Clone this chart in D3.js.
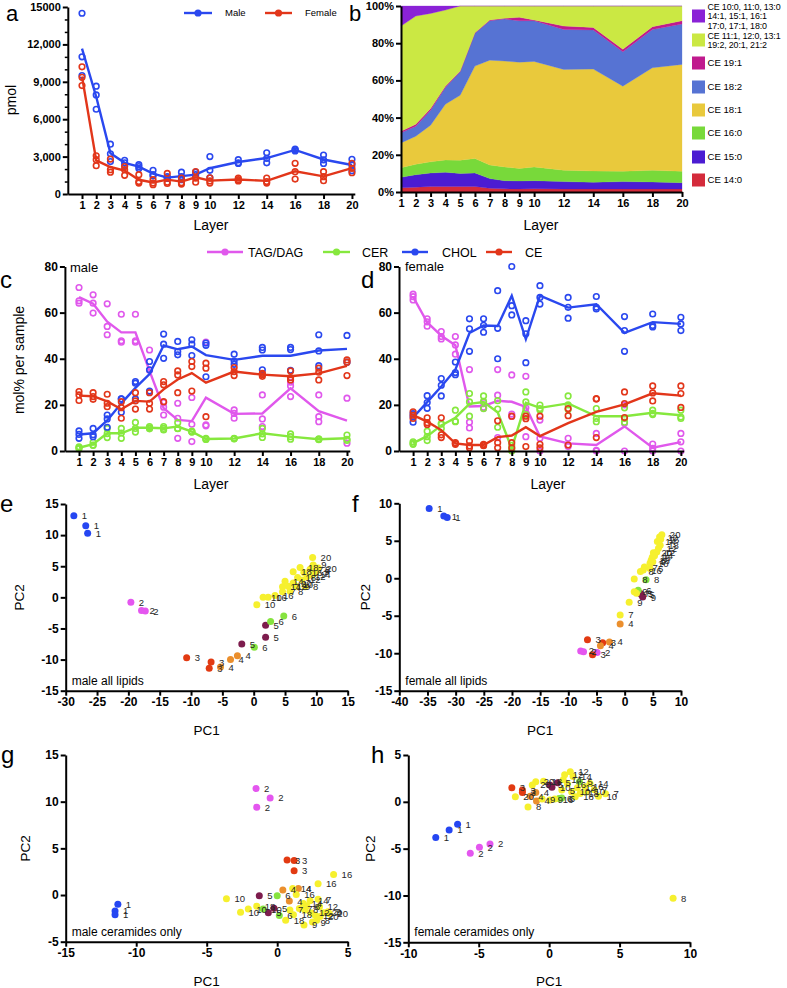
<!DOCTYPE html>
<html><head><meta charset="utf-8">
<script src="https://cdn.jsdelivr.net/npm/d3@7"></script>
<style>body{margin:0;background:#fff}svg{display:block}</style>
</head><body>
<svg id="fig" width="787" height="988"></svg>
<script>
// ---------------- DATA ----------------
const layers = [1,2,3,4,5,6,7,8,9,10,12,14,16,18,20];

// panel a: total CE (pmol), replicates per layer
const maleTotal = [[14500,11000,9500],[8650,7950,6800],[4000,3230,2600],[2700,2500,2300],[2350,2200,2050],[1900,1550,1450],[1400,1300,1250],[1750,1400,1150],[1750,1550,1350],[3000,1900,1300],[2750,2500,2450],[3300,2850,2500],[3600,3550,3450],[3130,2730,2450],[2780,2330,1870]];
const femaleTotal = [[10200,9360,8700],[3070,2750,2270],[2800,1950,1750],[2200,1950,1500],[1550,1000,880],[1150,880,750],[1650,950,850],[1280,900,800],[1800,1280,950],[1300,1050,880],[1280,1150,1050],[1280,1000,880],[2460,1790,1200],[1790,1390,1070],[2460,2060,1710]];
const aTicks = [0,3000,6000,9000,12000,15000];

// panel b: CE species composition (%), per layer
const ce14_0 = [2.3,2.6,3.0,3.0,3.0,3.0,2.0,1.7,1.6,1.8,1.6,1.6,1.6,1.6,1.6];
const ce15_0 = [5.6,6.7,7.2,7.6,7.0,7.2,5.2,4.4,4.3,4.3,4.0,3.6,4.0,3.8,3.4];
const ce16_0 = [5.2,5.6,6.0,6.6,7.1,7.8,7.3,7.4,6.7,7.4,6.1,6.1,5.5,6.3,6.1];
const ce18_1 = [13.3,15.1,19.7,30.0,34.9,49.7,56.4,56.9,57.2,56.7,54.2,54.8,45.8,55.1,57.5];
const ce18_2 = [5.4,5.4,8.1,9.0,12.6,17.6,21.2,22.6,22.3,21.9,21.5,21.0,18.5,20.6,21.7];
const ce19_1 = [0.9,1.0,0.9,0.7,0.4,0.3,0.4,0.4,1.8,0.4,1.8,1.4,1.3,1.5,1.8];
const ce11_1grp = [56.5,58.2,51.1,40.9,35.0,14.4,7.5,6.6,6.1,7.5,10.8,11.5,23.3,11.1,7.9];
const ce10_0grp = [10.8,5.4,4.0,2.2,0,0,0,0,0,0,0,0,0,0,0];
const ceKeys = ["CE 14:0","CE 15:0","CE 16:0","CE 18:1","CE 18:2","CE 19:1","CE 11:1 grp","CE 10:0 grp"];
const ceLegend = [["CE 14:0"],["CE 15:0"],["CE 16:0"],["CE 18:1"],["CE 18:2"],["CE 19:1"],["CE 11:1, 12:0, 13:1","19:2, 20:1, 21:2"],["CE 10:0, 11:0, 13:0","14:1, 15:1, 16:1","17:0, 17:1, 18:0"]];
const bTicks = [0,20,40,60,80,100];

// panels c/d: mol% per sample, replicates per layer
const maleTAG = [[70.9,65.1,64.1],[67.7,64.1,59.8],[63.8,54,50.4],[59.3,47.8,47.2],[59.3,47.8,47.2],[43.8,35,25.5],[21,19,15.6],[20.7,14.2,5.5],[23.2,11.6,4.1],[47.2,11.3,10.9],[17.8,16.3,14.2],[24.3,13.9,10.6],[29.8,28.2,23.6],[24.3,14.9,12.7],[22.9,3.4]];
const maleCER = [[1.8,1.4,1.0],[3.8,2.6,2.4],[9.8,7.5,5.8],[9.8,7.8,5.5],[12.4,9.8,8.2],[10.6,10,9.6],[10.6,9.8,9.1],[12.3,9.8,9.7],[8.6,8.4,8.2],[5.5,5.1,5.0],[5.5,5.4,5.3],[9.8,7.4,5.9],[7.4,6.2,5.1],[5.3,5.1,4.9],[6.9,5.1,4.6]];
const maleCHOL = [[8.7,7.2,5.5],[9.8,7.1,6.2],[15.6,13.9,10.3],[22.6,22.6,16.8],[30.1,29.4,22.6],[38.8,35.2,26],[50.7,46.3,40.2],[47.5,43.1,41.7],[48.2,46.3,41.4],[46.8,45.8,32.2],[42,39,37.6],[44.9,43.8,35.2],[44.9,44,35],[50.4,43.4,37],[50.1,38.5]];
const maleCE = [[25.8,24.3,21.9],[25.3,23.6,22.4],[24.6,20.7,19.2],[21.4,18.8,14.2],[25.3,21.7,18.2],[25.3,20.7,18.2],[30.1,28.7,21.4],[34.7,33,25.3],[38.8,36.6,26],[38.1,35.9,14.9],[36.2,34.4,32.7],[33.7,33.2,32.4],[34.7,31.8,30.8],[35.9,34.2,30.8],[39.5,38.5,32.7]];
const femaleTAG = [[68,66.9,65.5],[57.3,56,54.1],[51.8,49.6,48.6],[49.6,46,42],[35.3,12.5,10],[21,19,18.5],[35.3,24.2,5.8],[33,16,15],[32.4,18.7,6.2],[13.4,5.5,0],[5.5,2.5,1.9],[7.6,0.3,0],[20,12,0],[3,1.2,0],[7.6,4,0]];
const femaleCER = [[4,3.3,2.9],[8.6,6.2,4.5],[11.9,11.6,9.8],[17.7,12.9,12.7],[24.9,21.3,15.1],[23.9,21.5,18.4],[21.8,18.2,10.3],[2.5,1,0],[25.6,21.3,15.8],[19.9,18.4,17.8],[23.9,20,18],[18.4,14.1,12.7],[18.7,14.1,12.5],[17.7,16.3,15.8],[17.7,14.7,14.1]];
const femaleCHOL = [[16.2,14.8,12.5],[24,21,18.5],[31.4,28.5,23.9],[38.6,34,33.1],[57.3,53,43.2],[57.3,54.5,51.5],[69.5,53.2,40],[80,63,59],[56.5,50.8,38.3],[71.7,66.6,63.7],[66.6,62.3,57.6],[67,62.3,61.6],[58.3,52.2,43.2],[59.4,54.4,53.8],[58,55.1,52.2]];
const femaleCE = [[17,15.5,14.1],[14.4,12.3,11.5],[14.4,7,5.8],[3.6,3.3,2.9],[4.3,2.2,1.4],[2.9,2.6,2.3],[13.1,3.6,1.4],[15.1,3.6,1.4],[15.1,14,1.9],[15.1,2.9,1.4],[18.4,15.3,2.6],[22.7,22.5,5.8],[25.6,20.6,14.5],[28.2,25.2,21.7],[28.2,24.9,18.9]];
const molTicks = [0,20,40,60,80];

// panels e-h: PCA scores [PC1, PC2, label, colour group]
const pcaMaleAll = [[-28.7,13.1,"1",1],[-26.8,11.5,"1",1],[-26.5,10.3,"1",1],
 [-19.6,-0.8,"2",2],[-17.9,-2.1,"2",2],[-17.3,-2.2,"2",2],
 [-10.7,-9.7,"3",3],[-6.8,-10.4,"3",3],[-7.1,-11.4,"3",3],
 [-5.3,-11.2,"4",4],[-3.7,-10.0,"4",4],[-2.6,-9.4,"4",4],
 [-1.9,-7.5,"5",5],[1.9,-6.4,"5",5],[1.9,-4.5,"5",5],
 [0.1,-8.0,"6",6],[2.7,-3.9,"6",6],[4.8,-3.0,"6",6],
 [0.5,-1.2,"10",7],[1.5,0.0,"10",7],[2.3,0.0,"16",7],[3.4,0.3,"16",7],[4.6,0.9,"7",7],[4.6,1.7,"14",7],[5.0,2.6,"14",7],[5.5,1.8,"12",7],[6.3,4.1,"18",7],[6.3,2.3,"20",7],[6.9,1.7,"9",7],[7.4,4.8,"18",7],[7.7,2.8,"12",7],[8.5,3.3,"12",7],[8.2,1.7,"8",7],[9.4,6.4,"20",7],[9.5,5.2,"9",7],[10.1,4.4,"8",7],[9.3,3.6,"14",7],[9.8,3.9,"7",7],[10.3,4.7,"20",7],[8.0,4.0,"16",7],[7.0,3.2,"18",7],[10.0,4.2,"9",7],[9.0,4.5,"7",7],[5.8,1.0,"8",7],[6.5,2.0,"10",7]];
const pcaFemaleAll = [[-34.7,9.3,"1",1],[-32.1,8.3,"1",1],[-31.5,8.1,"1",1],
 [-7.8,-9.7,"2",2],[-7.3,-9.8,"2",2],[-4.9,-9.9,"2",2],
 [-6.6,-8.2,"3",3],[-3.9,-8.6,"3",3],[-5.7,-10.2,"3",3],
 [-4.3,-9.0,"4",4],[-2.7,-8.5,"4",4],[-0.8,-6.1,"4",4],
 [2.7,-2.0,"5",5],[3.0,-2.2,"5",5],[3.2,-2.5,"9",5],
 [3.8,-0.2,"8",6],[2.4,-1.6,"6",6],
 [-0.8,-4.9,"7",7],[0.8,-3.2,"9",7],[1.7,-1.8,"9",7],[1.7,-0.1,"8",7],[2.1,-2.0,"7",7],[2.8,0.9,"8",7],[3.3,1.1,"16",7],[4.5,1.3,"6",7],[4.5,2.0,"10",7],[4.7,2.4,"18",7],[5.1,3.4,"20",7],[5.7,3.5,"12",7],[5.8,4.9,"14",7],[6.2,5.5,"10",7],[6.6,5.8,"20",7],[6.3,4.4,"18",7],[5.3,3.0,"14",7],[6.0,4.0,"12",7],[6.4,5.2,"16",7],[4.9,2.8,"16",7],[3.5,1.5,"7",7],[5.0,2.2,"9",7]];
const pcaMaleCer = [[-11.3,-1.0,"1",1],[-11.5,-1.7,"1",1],[-11.5,-2.1,"1",1],
 [-1.5,11.4,"2",2],[-0.5,10.4,"2",2],[-1.45,9.4,"2",2],
 [0.7,3.75,"3",3],[1.2,3.7,"3",3],[1.2,2.6,"3",3],
 [0.4,0.55,"4",4],[1.5,0.7,"4",4],[0.86,-0.65,"4",4],
 [-1.27,-0.07,"5",5],[-0.23,-1.43,"5",5],[-0.63,-1.9,"5",5],
 [0.0,-0.07,"6",6],[0.15,-2.2,"6",6],[-1.0,-1.5,"10",6],
 [-3.6,-0.4,"10",7],[-2.6,-1.85,"10",7],[-2.05,-1.5,"10",7],[-1.45,-1.2,"18",7],[2.9,1.2,"16",7],[4.0,2.2,"16",7],[1.35,0.05,"16",7],[1.1,0.7,"14",7],[1.86,-0.9,"14",7],[2.33,-0.6,"14",7],[2.9,-0.45,"7",7],[3.0,-1.25,"12",7],[3.6,-1.8,"9",7],[3.7,-2.0,"20",7],[1.9,-3.2,"9",7],[0.6,-2.7,"18",7],[1.15,-2.1,"18",7],[1.97,-1.6,"8",7],[1.57,-1.45,"7",7],[2.68,-2.15,"12",7],[2.8,-2.7,"8",7],[2.4,-1.9,"12",7],[3.04,-2.3,"20",7],[2.5,-2.9,"9",7],[0.9,-1.6,"7",7],[3.3,-1.9,"20",7],[2.1,-1.2,"8",7]];
const pcaFemaleCer = [[-6.5,-2.4,"1",1],[-7.1,-3.0,"1",1],[-8.05,-3.8,"1",1],
 [-4.2,-4.5,"2",2],[-4.95,-4.85,"2",2],[-5.6,-5.5,"2",2],
 [-2.65,1.5,"3",3],[-1.9,1.25,"3",3],[-1.9,1.0,"3",3],
 [-0.95,1.0,"4",4],[-0.9,0.1,"4",4],[-1.35,0.6,"4",4],
 [0.6,2.05,"5",5],[0.2,1.55,"10",5],[0.05,1.8,"5",5],
 [2.15,2.15,"5",6],[0.7,0.35,"6",6],[0.9,0.4,"6",6],
 [-2.4,0.55,"20",7],[-1.5,-0.55,"8",7],[-0.95,2.15,"20",7],[-1.2,1.8,"20",7],[1.5,3.2,"12",7],[1.1,2.9,"12",7],[1.0,2.35,"14",7],[1.7,2.7,"14",7],[3.5,0.6,"10",7],[4.0,0.85,"7",7],[0.9,1.25,"5",7],[1.6,1.05,"10",7],[2.65,1.05,"10",7],[2.55,1.6,"16",7],[2.9,1.95,"14",7],[0.05,0.2,"9",7],[1.85,0.55,"18",7],[-0.5,0.3,"9",7],[3.2,1.3,"7",7],[8.8,-10.3,"8",7],[1.3,1.9,"16",7],[2.2,0.9,"18",7],[-0.4,2.2,"18",7],[0.4,0.3,"16",7],[2.0,1.5,"12",7]];

// ---------------- STYLE ----------------
const FONT = "'Liberation Sans', Arial, Helvetica, sans-serif";
const BLUE = "#2a48ef", RED = "#e2361a", MAG = "#e058ec", GRN = "#86e83e";
const ceColors = ["#d42b3b","#4b1cd2","#78d93a","#e9c93c","#5673d3","#c01a8e","#cbe843","#8a22d6"];
const groupColors = {1:"#2546f2",2:"#e456ef",3:"#e23a12",4:"#eb8f2d",5:"#7d1c4d",6:"#86e33f",7:"#f6f02e"};

const svg = d3.select("#fig");

function styleAxis(g, fs){
  g.select(".domain").attr("stroke","#000").attr("stroke-width",2);
  g.selectAll(".tick line").attr("stroke","#000").attr("stroke-width",2);
  g.selectAll(".tick text").attr("font-family",FONT).attr("font-weight","bold")
    .attr("font-size",fs).attr("fill","#000");
}
function bottomAxis(scale, y, vals, fs, fmt){
  const ax = d3.axisBottom(scale).tickValues(vals).tickSize(5).tickSizeOuter(0).tickPadding(2)
    .tickFormat(fmt || (d=>String(d)));
  const g = svg.append("g").attr("transform",`translate(0,${y})`).call(ax);
  styleAxis(g, fs); return g;
}
function leftAxis(scale, x, vals, fs, fmt){
  const ax = d3.axisLeft(scale).tickValues(vals).tickSize(5).tickSizeOuter(0).tickPadding(2)
    .tickFormat(fmt || (d=>String(d)));
  const g = svg.append("g").attr("transform",`translate(${x},0)`).call(ax);
  styleAxis(g, fs); return g;
}
function text(x, y, s, opts={}){
  const t = svg.append("text").attr("x",x).attr("y",y).text(s)
    .attr("font-family",FONT).attr("font-size",opts.size||12).attr("fill",opts.fill||"#000");
  if(opts.anchor) t.attr("text-anchor",opts.anchor);
  if(opts.weight) t.attr("font-weight",opts.weight);
  if(opts.spacing) t.attr("letter-spacing",opts.spacing);
  if(opts.rotate) t.attr("transform",`rotate(-90,${x},${y})`);
  return t;
}
function series(xs, ys, reps, color){
  const g = svg.append("g");
  const means = reps.map(r=>d3.mean(r));
  g.append("path").datum(layers.map((L,i)=>[L,means[i]]))
    .attr("d", d3.line().x(d=>xs(d[0])).y(d=>ys(d[1])))
    .attr("fill","none").attr("stroke",color).attr("stroke-width",2.4);
  const pts = [];
  reps.forEach((r,i)=>r.forEach(v=>pts.push([layers[i],v])));
  g.selectAll("circle").data(pts).join("circle")
    .attr("cx",d=>xs(d[0])).attr("cy",d=>ys(d[1])).attr("r",2.8)
    .attr("fill","none").attr("stroke",color).attr("stroke-width",1.6);
}
function legendItem(x1, x2, y, color, label, tx, size){
  svg.append("line").attr("x1",x1).attr("x2",x2).attr("y1",y).attr("y2",y)
    .attr("stroke",color).attr("stroke-width",2.4);
  svg.append("circle").attr("cx",(x1+x2)/2).attr("cy",y).attr("r",3.6).attr("fill",color);
  text(tx, y+size*0.36, label, {size});
}

// ---------------- PANEL A ----------------
const xa = d3.scaleLinear().domain([0,20.2]).range([67.8,354.8]);
const ya = d3.scaleLinear().domain([0,15000]).range([194,7]);
series(xa, ya, maleTotal, BLUE);
series(xa, ya, femaleTotal, RED);
bottomAxis(xa, 194, layers, 11);
leftAxis(ya, 67.8, aTicks, 11, d=> d===15000 ? "15000" : d3.format(",")(d));
{
  const g = svg.append("g").attr("transform","translate(67.8,0)")
    .call(d3.axisLeft(ya).tickValues(d3.range(1000,15000,1000).filter(v=>v%3000)).tickSize(3).tickFormat(""));
  g.select(".domain").remove();
  g.selectAll(".tick line").attr("stroke","#000").attr("stroke-width",1.5);
}
text(16, 100, "pmol", {size:14, anchor:"middle", rotate:true});
text(211, 230, "Layer", {size:14, anchor:"middle"});
legendItem(184, 212, 13, BLUE, "Male", 225, 9.5);
legendItem(265, 292, 13, RED, "Female", 305, 9.5);
text(6, 21, "a", {size:22});

// ---------------- PANEL B ----------------
const xb = d3.scaleLinear().domain([1,20]).range([401,682]);
const yb = d3.scaleLinear().domain([0,100]).range([192,6]);
const ceVals = [ce14_0,ce15_0,ce16_0,ce18_1,ce18_2,ce19_1,ce11_1grp,ce10_0grp];
const bRows = layers.map((L,i)=>{ const o={layer:L}; ceKeys.forEach((k,j)=>o[k]=ceVals[j][i]); return o; });
const stack = d3.stack().keys(ceKeys)(bRows);
const area = d3.area().x(d=>xb(d.data.layer)).y0(d=>yb(d[0])).y1(d=>yb(Math.min(100,d[1])));
svg.append("g").selectAll("path").data(stack).join("path")
  .attr("d",area).attr("fill",(d,i)=>ceColors[i]).attr("stroke",(d,i)=>ceColors[i]).attr("stroke-width",0.3);
bottomAxis(xb, 192, layers, 11);
leftAxis(yb, 401, bTicks, 11, d=>d+"%");
text(541, 230, "Layer", {size:14, anchor:"middle"});
text(349, 21, "b", {size:22});
// legend
const legY = [180,157,133,110,87,63,40,16];
ceKeys.forEach((k,i)=>{
  const cy = legY[i];
  svg.append("rect").attr("x",692).attr("y",cy-6.5).attr("width",13).attr("height",13).attr("fill",ceColors[i]);
  const lines = ceLegend[i];
  const lh = 9.6, top = cy - (lines.length-1)*lh/2;
  const multi = lines.length > 1;
  lines.forEach((s,j)=> text(707.5, top + j*lh + 3.4, s, {size: multi ? 8.9 : 9.6, spacing: multi ? "-0.15" : null}));
});

// ---------------- PANELS C / D ----------------
const yc = d3.scaleLinear().domain([0,80]).range([451,266.5]);
const xc = d3.scaleLinear().domain([0,20.2]).range([64.9,349.8]);
const xd = d3.scaleLinear().domain([0,20.2]).range([399,683.7]);
[[xc, maleTAG, maleCER, maleCHOL, maleCE],[xd, femaleTAG, femaleCER, femaleCHOL, femaleCE]].forEach(([xs,tag,cer,chol,ce])=>{
  series(xs, yc, tag, MAG);
  series(xs, yc, cer, GRN);
  series(xs, yc, chol, BLUE);
  series(xs, yc, ce, RED);
  bottomAxis(xs, 451, layers, 11);
  leftAxis(yc, xs.range()[0], molTicks, 12);
});
text(70, 272, "male", {size:13});
text(405, 271, "female", {size:13});
text(24, 360, "mol% per sample", {size:14, anchor:"middle", rotate:true});
text(211, 489, "Layer", {size:14, anchor:"middle"});
text(548, 489, "Layer", {size:14, anchor:"middle"});
legendItem(207, 243, 252, MAG, "TAG/DAG", 248, 12.5);
legendItem(323, 350, 252, GRN, "CER", 362, 12.5);
legendItem(402, 428, 252, BLUE, "CHOL", 442, 12.5);
legendItem(486, 512, 252, RED, "CE", 525, 12.5);
text(0, 288, "c", {size:24});
text(361, 288, "d", {size:24});

// ---------------- PANELS E-H (PCA) ----------------
function pcaPanel(data, xDom, xRange, yDom, yRange, xStep, yStep, caption, pc2x){
  const xs = d3.scaleLinear().domain(xDom).range(xRange);
  const ys = d3.scaleLinear().domain(yDom).range(yRange);
  const g = svg.append("g");
  g.selectAll("circle").data(data).join("circle")
    .attr("cx",d=>xs(d[0])).attr("cy",d=>ys(d[1])).attr("r",3.5)
    .attr("fill",d=>groupColors[d[3]]);
  g.selectAll("text").data(data).join("text")
    .attr("x",d=>xs(d[0])+8).attr("y",d=>ys(d[1])+3.5).text(d=>d[2])
    .attr("font-family",FONT).attr("font-size",9.5).attr("fill","#262626");
  bottomAxis(xs, yRange[0], d3.range(xDom[0], xDom[1]+0.01, xStep), 12);
  leftAxis(ys, xRange[0], d3.range(yDom[0], yDom[1]+0.01, yStep), 12);
  text(xRange[0]+6, yRange[0]-6, caption, {size:12});
  text((xRange[0]+xRange[1])/2, yRange[0]+44, "PC1", {size:13.5, anchor:"middle"});
  text(pc2x, (yRange[0]+yRange[1])/2, "PC2", {size:13.5, anchor:"middle", rotate:true});
}
pcaPanel(pcaMaleAll, [-30,15], [65.7,347.7], [-15,15], [690.7,504], 5, 5, "male all lipids", 24);
pcaPanel(pcaFemaleAll, [-40,10], [399.3,681], [-15,10], [690.7,503.3], 5, 5, "female all lipids", 370);
pcaPanel(pcaMaleCer, [-15,5], [65.7,347.7], [-5,15], [941.7,755], 5, 5, "male ceramides only", 30);
pcaPanel(pcaFemaleCer, [-10,10], [408.3,690], [-15,5], [942.3,755], 5, 5, "female ceramides only", 375);
text(0, 512, "e", {size:24});
text(352, 512, "f", {size:24});
text(1, 763, "g", {size:24});
text(371, 763, "h", {size:24});
</script>
</body></html>
